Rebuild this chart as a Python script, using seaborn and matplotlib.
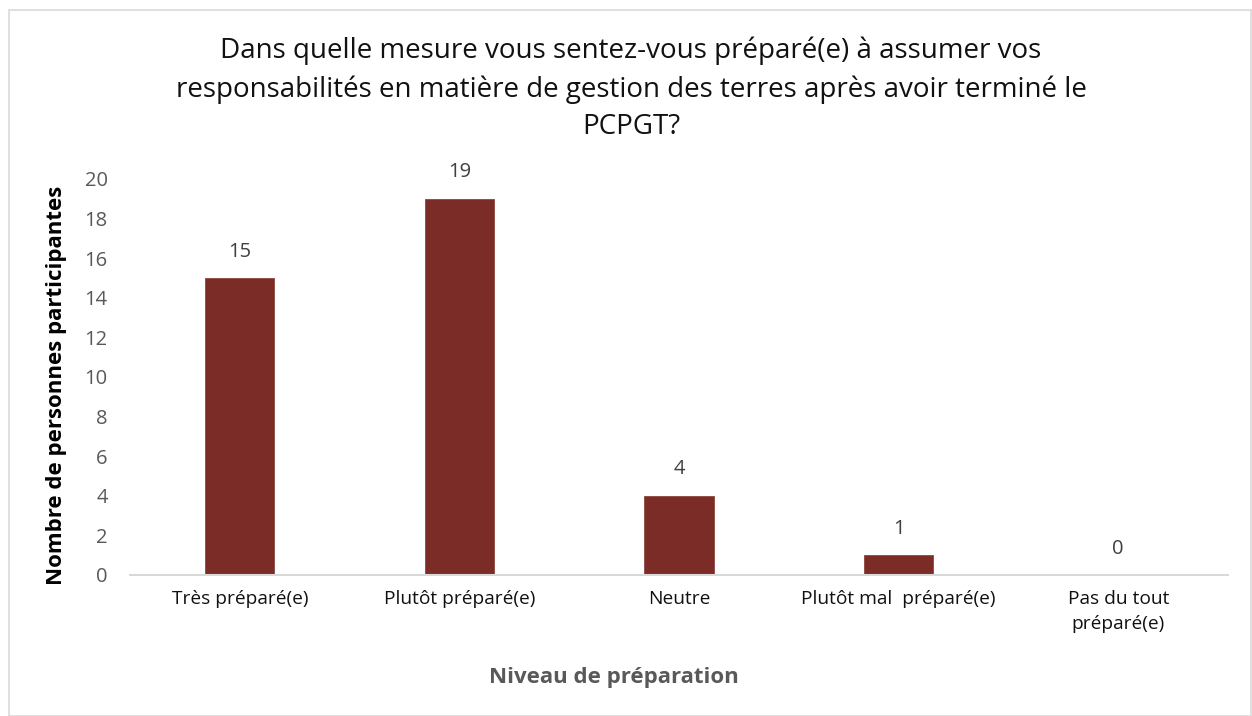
import matplotlib
matplotlib.use("Agg")
import matplotlib.pyplot as plt
import seaborn as sns
import pandas as pd
from matplotlib.patches import Rectangle

categories = ["Très préparé(e)", "Plutôt préparé(e)", "Neutre",
              "Plutôt mal  préparé(e)", "Pas du tout\npréparé(e)"]
counts = [15, 19, 4, 1, 0]
y_ticks = [0, 2, 4, 6, 8, 10, 12, 14, 16, 18, 20]

title = ("Dans quelle mesure vous sentez-vous préparé(e) à assumer vos\n"
         "responsabilités en matière de gestion des terres après avoir terminé le\n"
         "PCPGT?")
x_label = "Niveau de préparation"
y_label = "Nombre de personnes participantes"

sns.set_theme(style="white")
plt.rcParams["font.family"] = ["Open Sans", "DejaVu Sans"]

df = pd.DataFrame({"cat": categories, "n": counts})

fig = plt.figure(figsize=(12.52, 7.16), dpi=100)
ax = fig.add_axes([130 / 1252, 1 - 575 / 716, (1228 - 130) / 1252, (575 - 179) / 716])

sns.barplot(data=df, x="cat", y="n", color="#7B2C27", width=0.315,
            saturation=1, ax=ax, edgecolor="#8E4540", linewidth=0.6)

ax.set_ylim(0, 20)
ax.set_xlim(-0.5, len(categories) - 0.5)
ax.set_yticks(y_ticks)
ax.set_yticklabels([str(t) for t in y_ticks], fontsize=14.5, color="#595959")
ax.tick_params(axis="y", length=0, pad=16)
ax.tick_params(axis="x", length=0, pad=11, labelsize=13.8, labelcolor="#111111")
for lbl in ax.get_xticklabels():
    lbl.set_linespacing(1.5)
    lbl.set_verticalalignment("top")

for side in ["top", "right", "left"]:
    ax.spines[side].set_visible(False)
ax.spines["bottom"].set_color("#D9D9D9")
ax.spines["bottom"].set_linewidth(1.5)

for i, v in enumerate(counts):
    ax.annotate(str(v), xy=(i, v), xytext=(0, 19), textcoords="offset points",
                ha="center", va="center", fontsize=14.5, color="#404040")

ax.set_xlabel(x_label, fontsize=16, fontweight="bold", color="#595959")
ax.set_ylabel(y_label, fontsize=16, fontweight="bold", color="#000000")
ax.xaxis.set_label_coords(0.441, -0.232)
ax.yaxis.set_label_coords(-0.057, 0.48)

fig.text(0.504, 1 - 89 / 716, title, ha="center", va="center",
         fontsize=20, color="#111111", linespacing=1.45)

fig.patches.append(Rectangle((9 / 1252, 0), 1 - 10 / 1252, 1 - 10 / 716,
                             transform=fig.transFigure, fill=False,
                             edgecolor="#D9D9D9", linewidth=1.2))

fig.savefig("out.png", dpi=100, facecolor="white")
